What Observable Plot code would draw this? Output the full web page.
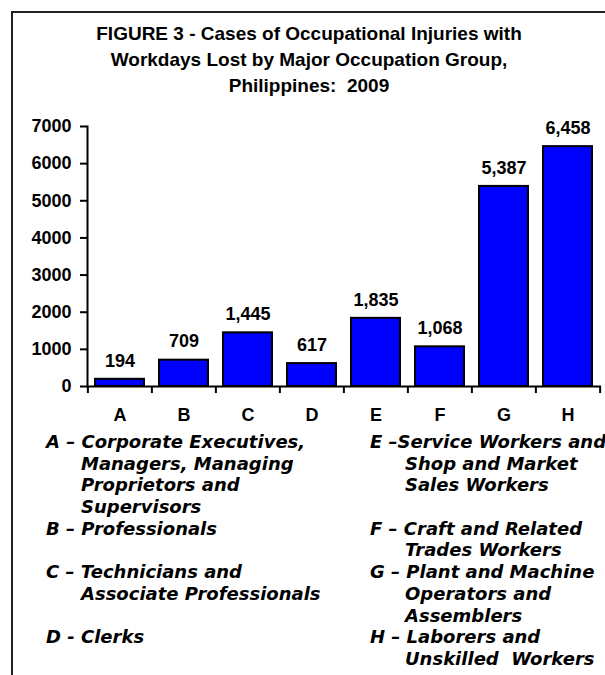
<!DOCTYPE html>
<html><head><meta charset="utf-8">
<script src="https://cdn.jsdelivr.net/npm/d3@7"></script>
<script src="https://cdn.jsdelivr.net/npm/@observablehq/plot@0.6"></script>
<style>
html,body{margin:0;padding:0;background:#fff;}
#wrap{position:relative;width:605px;height:675px;overflow:hidden;background:#fff;}
#frame{position:absolute;left:11px;top:11px;width:700px;height:700px;border-left:2px solid #222;border-top:2px solid #222;}
#title{position:absolute;left:13px;width:592px;top:21px;text-align:center;font:bold 19px "Liberation Sans",Arial,sans-serif;line-height:26px;color:#000;}
#chart{position:absolute;left:0;top:0;}
.legend{position:absolute;top:431px;font:italic bold 18px "DejaVu Sans",sans-serif;line-height:21.7px;color:#000;white-space:pre;}
.legend div{height:21.7px;}
.legend .c{padding-left:35px;}
</style></head><body>
<div id="wrap">
 <div id="frame"></div>
 <div id="title">FIGURE 3 - Cases of Occupational Injuries with<br>Workdays Lost by Major Occupation Group,<br>Philippines:&nbsp; 2009</div>
 <div id="chart"></div>
 <div class="legend" id="legL" style="left:46px"></div>
 <div class="legend" id="legR" style="left:370px"></div>
</div>
<script>
const categories = ["A","B","C","D","E","F","G","H"];
const cases = [194, 709, 1445, 617, 1835, 1068, 5387, 6458];
const yTicks = [0, 1000, 2000, 3000, 4000, 5000, 6000, 7000];
const legendLeft = [
  "A – Corporate Executives,", "Managers, Managing", "Proprietors and", "Supervisors",
  "B – Professionals", "",
  "C – Technicians and", "Associate Professionals", "",
  "D - Clerks"
];
const legendRight = [
  "E –Service Workers and", "Shop and Market", "Sales Workers", "",
  "F – Craft and Related", "Trades Workers",
  "G – Plant and Machine", "Operators and", "Assemblers",
  "H – Laborers and", "Unskilled  Workers"
];

const data = categories.map((c, i) => ({cat: c, value: cases[i]}));
const W = 605, H = 430, mL = 87, mR = 4;
const step = (W - mL - mR) / categories.length;
const fmt = d3.format(",");

const chart = Plot.plot({
  width: W, height: H,
  marginTop: 126, marginBottom: H - 386, marginLeft: mL, marginRight: mR,
  style: {fontFamily: '"Liberation Sans", Arial, sans-serif', fontSize: "18px", fontWeight: "bold", color: "#000", background: "transparent"},
  x: {domain: categories, paddingInner: 0.23, paddingOuter: 0.115, label: null},
  y: {domain: [0, 7000], label: null},
  marks: [
    Plot.barY(data, {x: "cat", y: "value", fill: "#0000FF", stroke: "#000", strokeWidth: 2}),
    Plot.ruleY([0], {stroke: "#000", strokeWidth: 2}),
    Plot.frame({anchor: "left", stroke: "#000", strokeWidth: 2}),
    Plot.ruleX(categories, {x: d => d, y1: 0, y2: 0, insetBottom: -7, dx: -step / 2, stroke: "#000", strokeWidth: 2}),
    Plot.ruleX(categories.slice(-1), {x: d => d, y1: 0, y2: 0, insetBottom: -7, dx: step / 2, stroke: "#000", strokeWidth: 2}),
    Plot.axisY({ticks: yTicks, tickSize: 7, tickPadding: 9, tickFormat: d => String(d), label: null, strokeWidth: 2, fontSize: 18, fontWeight: "bold"}),
    Plot.axisX({tickSize: 0, tickPadding: 22, label: null, fontSize: 18, fontWeight: "bold"}),
    Plot.text(data, {x: "cat", y: "value", text: d => fmt(d.value), dy: -18.5, lineAnchor: "middle", fontSize: 18, fontWeight: "bold", fill: "#000"})
  ]
});
document.getElementById("chart").appendChild(chart);

function fillLegend(id, lines) {
  const el = document.getElementById(id);
  for (const line of lines) {
    const div = document.createElement("div");
    if (line && !/^[A-H] [–-]/.test(line)) div.className = "c";
    div.textContent = line;
    el.appendChild(div);
  }
}
fillLegend("legL", legendLeft);
fillLegend("legR", legendRight);
</script>
</body></html>
